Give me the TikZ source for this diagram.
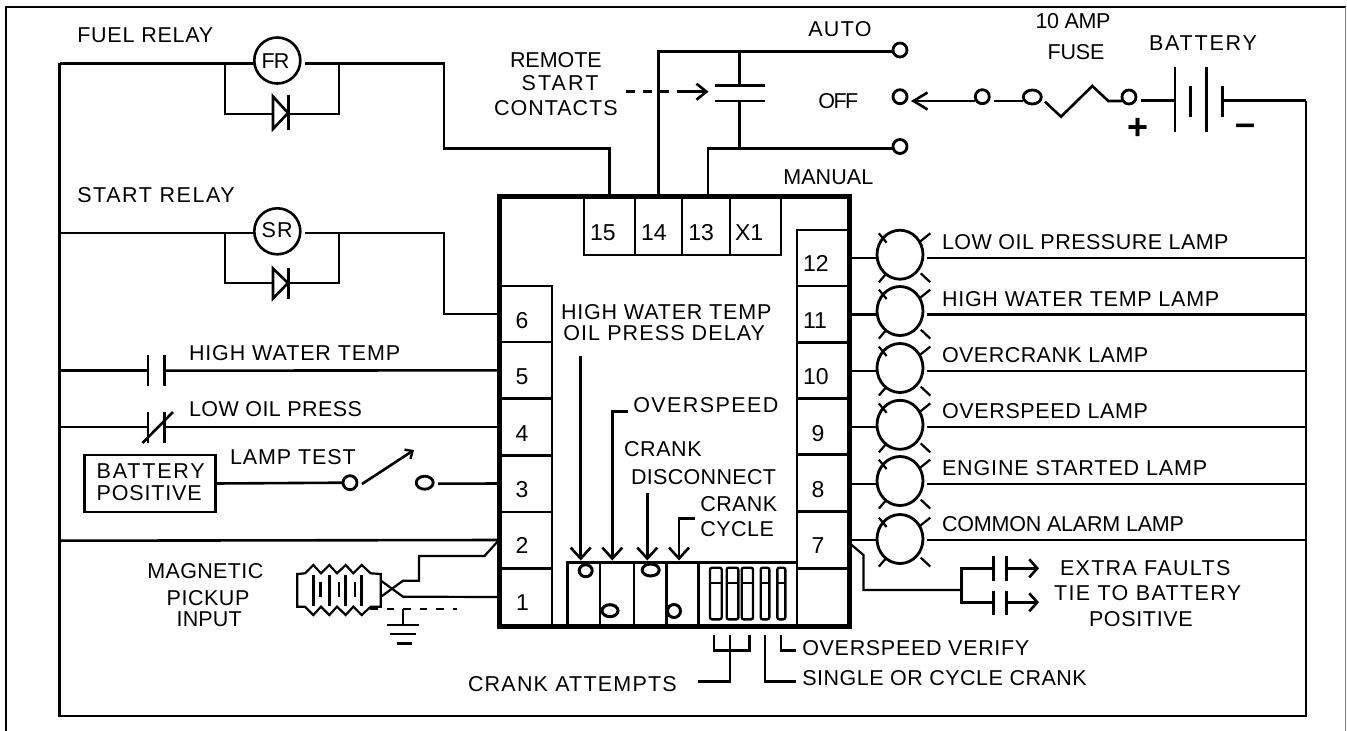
\documentclass[tikz,border=0pt]{standalone}
\usepackage{fontspec}
\usepackage{xstring}
\setmainfont{Liberation Sans}
\usetikzlibrary{arrows.meta,shapes.geometric,calc}
\newsavebox{\labbox}
\newcommand{\fitlab}[2]{{%
  \sbox{\labbox}{#2}\StrLen{#2}[\labn]%
  \pgfmathsetmacro{\lsval}{(#1-\the\wd\labbox)/(\labn-1)/21.5*100}%
  \edef\lstmp{\noexpand\addfontfeature{LetterSpace=\lsval}}\lstmp #2}}
\newcommand{\tl}[5]{\node[lab] (#1) at (#2,#3) {\fitlab{#4}{#5}};}
\tikzset{
  wire/.style={draw=black,line width=2.6pt,line join=miter},
  thin wire/.style={draw=black,line width=2.2pt},
  lab/.style={inner sep=0pt,outer sep=0pt,anchor=base west,font=\fontsize{21.5}{24}\selectfont,text=black},
  num/.style={inner sep=0pt,outer sep=0pt,anchor=base west,font=\fontsize{23}{24}\selectfont,text=black},
  term/.style={draw=black,line width=2.5pt,inner sep=0pt,outer sep=0pt},
  ring/.style={draw=black,line width=2.8pt,circle,inner sep=0pt,outer sep=0pt,minimum size=14pt,fill=white},
  oval/.style={draw=black,line width=2.8pt,ellipse,inner sep=0pt,outer sep=0pt,minimum width=18pt,minimum height=14pt},
  coil/.style={draw=black,line width=2.6pt,circle,inner sep=0pt,outer sep=0pt,minimum size=46pt},
  lamp/.style={draw=black,line width=2.8pt,ellipse,inner sep=0pt,outer sep=0pt,minimum width=46pt,minimum height=49pt},
  barb/.style={-{Straight Barb[length=11pt,width=20pt,line width=2.6pt]}},
  slot/.style={draw=black,line width=2.4pt,rounded corners=2pt},
  blob/.style={draw=black,line width=3pt,ellipse,inner sep=0pt,outer sep=0pt}
}
\begin{document}
\begin{tikzpicture}[x=1pt,y=-1pt]
\useasboundingbox (0,0) rectangle (1347,731);
\fill[white] (0,0) rectangle (1347,731);
% outer frame
\draw[wire] (6,731) -- (6,7) -- (1346,7);
\draw[draw=gray,line width=1pt] (1345.7,7) -- (1345.7,731);

% terminals
\node[term,minimum width=53pt,minimum height=56pt] (t6) at (525.5,314) {};
\node[term,minimum width=53pt,minimum height=56.5pt] (t5) at (525.5,370.3) {};
\node[term,minimum width=53pt,minimum height=56.5pt] (t4) at (525.5,427) {};
\node[term,minimum width=53pt,minimum height=56.5pt] (t3) at (525.5,483.5) {};
\node[term,minimum width=53pt,minimum height=56.5pt] (t2) at (525.5,540) {};
\node[term,minimum width=53pt,minimum height=58pt] (t1) at (525.5,597) {};
\node[term,minimum width=52pt,minimum height=56pt] (t12) at (823,258) {};
\node[term,minimum width=52pt,minimum height=56pt] (t11) at (823,314.2) {};
\node[term,minimum width=52pt,minimum height=56pt] (t10) at (823,370.3) {};
\node[term,minimum width=52pt,minimum height=56pt] (t9) at (823,426.7) {};
\node[term,minimum width=52pt,minimum height=56.5pt] (t8) at (823,483.3) {};
\node[term,minimum width=52pt,minimum height=56.5pt] (t7) at (823,540) {};
\node[term,minimum width=52pt,minimum height=58pt] (tb) at (823,597) {};
\node[term,minimum width=51pt,minimum height=58.3pt] (t15) at (609.5,225.9) {};
\node[term,minimum width=47pt,minimum height=58.3pt] (t14) at (658.5,225.9) {};
\node[term,minimum width=48pt,minimum height=58.3pt] (t13) at (706,225.9) {};
\node[term,minimum width=51pt,minimum height=58.3pt] (tx1) at (755.5,225.9) {};
% control box frame
\node[draw=black,line width=5pt,inner sep=0pt,outer sep=2.5pt,minimum width=350pt,minimum height=429.3pt] (ctrl) at (674,411.35) {};

% terminal numbers
\node[num] (n15) at (590,240.7) {15};
\node[num] (n14) at (641,240.7) {14};
\node[num] (n13) at (688.3,240.7) {13};
\node[num] (nx1) at (735,240.7) {X1};
\node[num] (n12) at (803,271.7) {12};
\node[num] (n11) at (803,328.3) {11};
\node[num] (n10) at (803,384.3) {10};
\node[num] (n9) at (811.5,441.7) {9};
\node[num] (n8) at (811.5,497.7) {8};
\node[num] (n7) at (811.5,553.3) {7};
\node[num] (n6) at (515.5,328.3) {6};
\node[num] (n5) at (515.5,384.3) {5};
\node[num] (n4) at (515.5,441) {4};
\node[num] (n3) at (515.5,497.3) {3};
\node[num] (n2) at (515.5,553.3) {2};
\node[num] (n1) at (516,610.7) {1};

% bus rails
\coordinate (busTL) at (59.5,63.3);
\coordinate (busBL) at (59.5,715.8);
\coordinate (busBR) at (1305.8,715.8);
\coordinate (busTR) at (1305.8,100.5);
\draw[wire] (busTL) -- (busBL) -- (busBR) -- (busTR);

% fuel relay
\node[coil] (FR) at (277.3,60.5) {};
\node[lab] (FRt) at (261.7,68) {\fitlab{27.6}{FR}};
\tl{FRl}{77.3}{42.7}{136.7}{FUEL RELAY}
\coordinate (frR) at (304.7,63.3);
\draw[wire] (busTL) -- (busTL -| FR.west);
\draw[wire] (frR) -- (444,63.3) -- (444,148.3) -- (t15.north |- 0,148.3) -- (t15.north |- ctrl.north);
\draw[wire] (225,63.3) -- (225,114) -- (273,114);
\draw[wire] (339,63.3) -- (339,114) -- (288.5,114);
\draw[wire] (273,96.5) -- (273,129) -- (288,113) -- cycle;
\draw[wire] (288.5,95) -- (288.5,129.5);

% start relay
\node[coil] (SR) at (277.3,231.3) {};
\node[lab] (SRt) at (261.7,237.7) {\fitlab{31}{SR}};
\tl{SRl}{77.3}{202.3}{159}{START RELAY}
\coordinate (srL) at (59.5,233);
\coordinate (srR) at (304.7,233);
\draw[wire] (srL) -- (srL -| SR.west);
\draw[wire] (srR) -- (444,233) -- (444,314) -- (t6.west);
\draw[wire] (225,233) -- (225,283) -- (273,283);
\draw[wire] (339,233) -- (339,283) -- (288.5,283);
\draw[wire] (273,268.5) -- (273,298.5) -- (288,283) -- cycle;
\draw[wire] (288.5,267.5) -- (288.5,299);

% high water temp contact
\tl{hwt}{189}{360}{213}{HIGH WATER TEMP}
\draw[wire] (59.5,370.7) -- (148,370.7);
\draw[wire] (148,355) -- (148,386);
\draw[wire] (164.5,355) -- (164.5,386);
\draw[wire] (164.5,370.7) -- (t5.west);

% low oil press contact
\tl{lop}{189}{416}{174}{LOW OIL PRESS}
\draw[wire] (59.5,427) -- (148,427);
\draw[wire] (148,412) -- (148,443);
\draw[wire] (164.5,412) -- (164.5,443);
\draw[wire] (142.5,443) -- (173,412);
\draw[wire] (164.5,427) -- (t4.west);

% lamp test
\node[term,minimum width=131pt,minimum height=57pt] (batpos) at (150,483.5) {};
\tl{bp1}{96.7}{478.7}{108}{BATTERY}
\tl{bp2}{96.7}{500.7}{105}{POSITIVE}
\tl{lt}{230}{464}{126.7}{LAMP TEST}
\node[ring] (ltA) at (350,482.7) {};
\node[oval,minimum width=17pt,minimum height=13pt] (ltB) at (424.7,482.7) {};
\coordinate (ltC) at (438,483.7);
\draw[wire] (batpos.east) -- (ltA.west);
\draw[wire,-{Straight Barb[length=6pt,width=11pt,line width=2.4pt]}] (362,484) -- (414,450);
\draw[wire] (ltC) -- (t3.west);

% terminal 2 rail
\draw[wire] (59.5,540.7) -- (t2.west);

% magnetic pickup
\tl{mp1}{147.3}{578.7}{116}{MAGNETIC}
\tl{mp2}{166.7}{605}{82.7}{PICKUP}
\tl{mp3}{176.7}{626.7}{65}{INPUT}
\draw[thin wire] (297.3,574) -- (305,573.3) -- (313.3,565) -- (321,573.3) -- (329.3,565) -- (337,573.3) -- (345.7,565) -- (353.3,573.3) -- (361.7,565) -- (370.7,573.3) -- (380.7,574)
 -- (380.7,606.7) -- (370.7,606.7) -- (361.7,615) -- (353.3,606.7) -- (345.7,615) -- (337,606.7) -- (329.3,615) -- (321,606.7) -- (313.3,615) -- (305,606.7) -- (297.3,606.7) -- cycle;
\foreach \bx in {313.3,329.3,345.7,361.7} \draw[wire] (\bx,575) -- (\bx,606);
\foreach \bx in {320.3,339,355} \draw[wire] (\bx,581.7) -- (\bx,597);
\draw[thin wire] (381,580.7) -- (403,596.7) -- (t1.west);
\draw[thin wire] (381,596.7) -- (403,580.7) -- (419,580.7) -- (419,556) -- (484.5,556) -- (t2.west);
\draw[wire,dash pattern=on 7.5pt off 9pt] (370,609) -- (457,609);
\draw[wire] (403,609) -- (403,625);
\draw[wire] (387,625) -- (418.5,625);
\draw[wire] (390,634) -- (415.5,634);
\draw[wire] (396.7,643.3) -- (411.7,643.3);

% remote start contacts and selector
\tl{rs1}{510}{67.7}{91.7}{REMOTE}
\tl{rs2}{521.7}{90}{76.7}{START}
\tl{rs3}{494}{115}{123.7}{CONTACTS}
\tl{auto}{808.3}{36.7}{63.3}{AUTO}
\tl{off}{818.3}{108.3}{40}{OFF}
\tl{man}{783.3}{184}{90}{MANUAL}
\node[ring] (swA) at (900,50) {};
\node[ring] (swO) at (900,96.7) {};
\node[ring] (swM) at (900,146.5) {};
\draw[wire] (t14.north |- ctrl.north) -- (t14.north |- 0,51.3) -- (swA.west |- 0,51.3);
\draw[wire] ([xshift=2pt]t13.north |- ctrl.north) -- ([xshift=2pt]t13.north |- 0,148.3) -- (swM.west |- 0,148.3);
\coordinate (rsTop) at (739.3,51.3);
\coordinate (rsBot) at (739.3,148.3);
\draw[wire] (rsTop) -- (739.3,85.7);
\draw[wire] (739.3,101) -- (rsBot);
\draw[wire] (715,85.7) -- (765,85.7);
\draw[wire] (715,101) -- (765,101);
\draw[wire,dash pattern=on 9pt off 8pt] (626,91.7) -- (683,91.7);
\draw[wire,-{Straight Barb[length=10pt,width=16pt,line width=2.6pt]}] (683,91.7) -- (708.5,91.7);

% fuse and battery
\tl{f1}{1035.7}{28.3}{74.3}{10 AMP}
\tl{f2}{1047.7}{59.3}{56.7}{FUSE}
\tl{bat}{1149}{50}{108}{BATTERY}
\node[ring] (swI) at (982.3,96.7) {};
\node[oval] (fA) at (1032.3,97) {};
\node[ring] (fB) at (1129,97) {};
\draw[wire,-{Straight Barb[length=14pt,width=17pt,line width=2.6pt]}] (swI.west |- 0,101) -- (911,101);
\draw[wire] (994,101) -- (fA.west |- 0,101);
\draw[wire] (1045,101.7) -- (1061,116.7) -- (1092.3,86) -- (1108.3,101) -- (fB.west |- 0,101);
\draw[wire] (1141,100.5) -- (1175,100.5);
\draw[wire] (1175,66.7) -- (1175,132.3);
\draw[wire] (1190.7,86) -- (1190.7,116.7);
\draw[wire] (1206.7,66.7) -- (1206.7,132.3);
\draw[wire] (1222.7,86) -- (1222.7,116.7);
\draw[wire] (1222.7,100.5) -- (busTR);
\node[inner sep=0pt,font=\bfseries\fontsize{36}{36}\selectfont] (plus) at (1138.3,129.3) {+};
\node[inner sep=0pt,font=\bfseries\fontsize{36}{36}\selectfont] (minus) at (1245.3,129.3) {–};

% lamps
\foreach \n/\w/\c in {12/258/254.7,11/314.5/311,10/371/368,9/427/424.8,8/484/481,7/540/539}{
  \node[lamp] (L\n) at (900,\c) {};
  \draw[wire] (t\n.east |- 0,\w) -- (L\n.west |- 0,\w);
  \coordinate (LR\n) at (927,\w);
  \draw[wire] (LR\n) -- (LR\n -| busTR);
  \draw[thin wire] (878.8,\c-21.4) -- (886.6,\c-12);
  \draw[thin wire] (930.3,\c-21.4) -- (918.6,\c-12);
  \draw[thin wire] (886.6,\c+18.6) -- (878.8,\c+27.6);
  \draw[thin wire] (920.7,\c+18.6) -- (930.3,\c+27.6);
}
\tl{l12}{942}{249.5}{288}{LOW OIL PRESSURE LAMP}
\tl{l11}{942}{306}{279.6}{HIGH WATER TEMP LAMP}
\tl{l10}{942}{362}{206.7}{OVERCRANK LAMP}
\tl{l9}{942}{418.5}{206.7}{OVERSPEED LAMP}
\tl{l8}{942}{475.5}{267}{ENGINE STARTED LAMP}
\tl{l7}{942}{531.5}{241.6}{COMMON ALARM LAMP}

% extra faults
\tl{ef1}{1060}{575.7}{171.7}{EXTRA FAULTS}
\tl{ef2}{1054}{600.7}{190}{TIE TO BATTERY}
\tl{ef3}{1089}{626.7}{103.7}{POSITIVE}
\draw[thin wire] (t7.east |- 0,542.7) -- (863.5,555) -- (863.5,590) -- (961.7,590);
\draw[wire] (993.3,568.3) -- (961.7,568.3) -- (961.7,602.3) -- (993.3,602.3);
\draw[wire] (993.3,556) -- (993.3,580.7);
\draw[wire] (993.3,590.7) -- (993.3,615);
\draw[wire] (1006.7,556) -- (1006.7,580.7);
\draw[wire] (1006.7,590.7) -- (1006.7,615);
\draw[wire,-{Straight Barb[length=8pt,width=18pt,line width=2.6pt]}] (1006.7,568.3) -- (1039,568.3);
\draw[wire,-{Straight Barb[length=8pt,width=18pt,line width=2.6pt]}] (1006.7,602.3) -- (1039,602.3);

% interior labels and arrows
\tl{d1}{561}{319.3}{212}{HIGH WATER TEMP}
\tl{d2}{563.3}{340.7}{204}{OIL PRESS  DELAY}
\tl{os}{633.3}{412.7}{145}{OVERSPEED}
\tl{cd1}{624}{456.7}{77.7}{CRANK}
\tl{cd2}{631}{484.3}{145}{DISCONNECT}
\tl{cc1}{700.3}{511}{77}{CRANK}
\tl{cc2}{700.3}{536}{73.7}{CYCLE}
\draw[wire,barb] (580.7,356) -- (580.7 ,560.5);
\draw[wire,barb] (627.7,411.7) -- (612.3,411.7) -- (612.3,560.5);
\draw[wire,barb] (647.3,493.3) -- (647.3,560.5);
\draw[wire,barb] (695,518.3) -- (679,518.3) -- (679,560.5);

% switch bank
\draw[term] (567.7,626) -- (567.7,562.3) -- (797,562.3);
\draw[term] (600,562.3) -- (600,626);
\draw[term] (634,562.3) -- (634,626);
\draw[term] (666.7,562.3) -- (666.7,626);
\draw[term] (698.3,562.3) -- (698.3,626);
\node[blob,minimum width=13pt,minimum height=12pt] (b1) at (585.7,570.7) {};
\node[blob,minimum width=16pt,minimum height=12pt] (b2) at (610,610.7) {};
\node[blob,minimum width=17pt,minimum height=12pt] (b3) at (650.7,570) {};
\node[blob,minimum width=13pt,minimum height=13pt] (b4) at (674,611) {};
\foreach \sx/\sw/\sb in {710/11.7/583.3,726.7/11.6/583.3,741.7/11.3/583.3,760.7/8.6/583.3,777.3/8/583.3}{
  \draw[slot] (\sx,567.7) rectangle (\sx+\sw,619.3);
  \draw[draw=black,line width=1.8pt] (\sx,\sb) -- (\sx+\sw,\sb);
}

% bottom call-outs
\tl{ca}{468}{691.3}{210}{CRANK ATTEMPTS}
\tl{ov}{802.3}{655}{227.7}{OVERSPEED VERIFY}
\tl{sc}{802.3}{685.7}{286}{SINGLE OR CYCLE CRANK}
\draw[wire] (714,635) -- (714,650.7) -- (749.3,650.7) -- (749.3,635);
\draw[wire] (730,635) -- (730,681.7) -- (698.3,681.7);
\draw[wire] (765,635) -- (765,681.7) -- (796,681.7);
\draw[wire] (781,635) -- (781,650.7) -- (796,650.7);
\end{tikzpicture}
\end{document}
